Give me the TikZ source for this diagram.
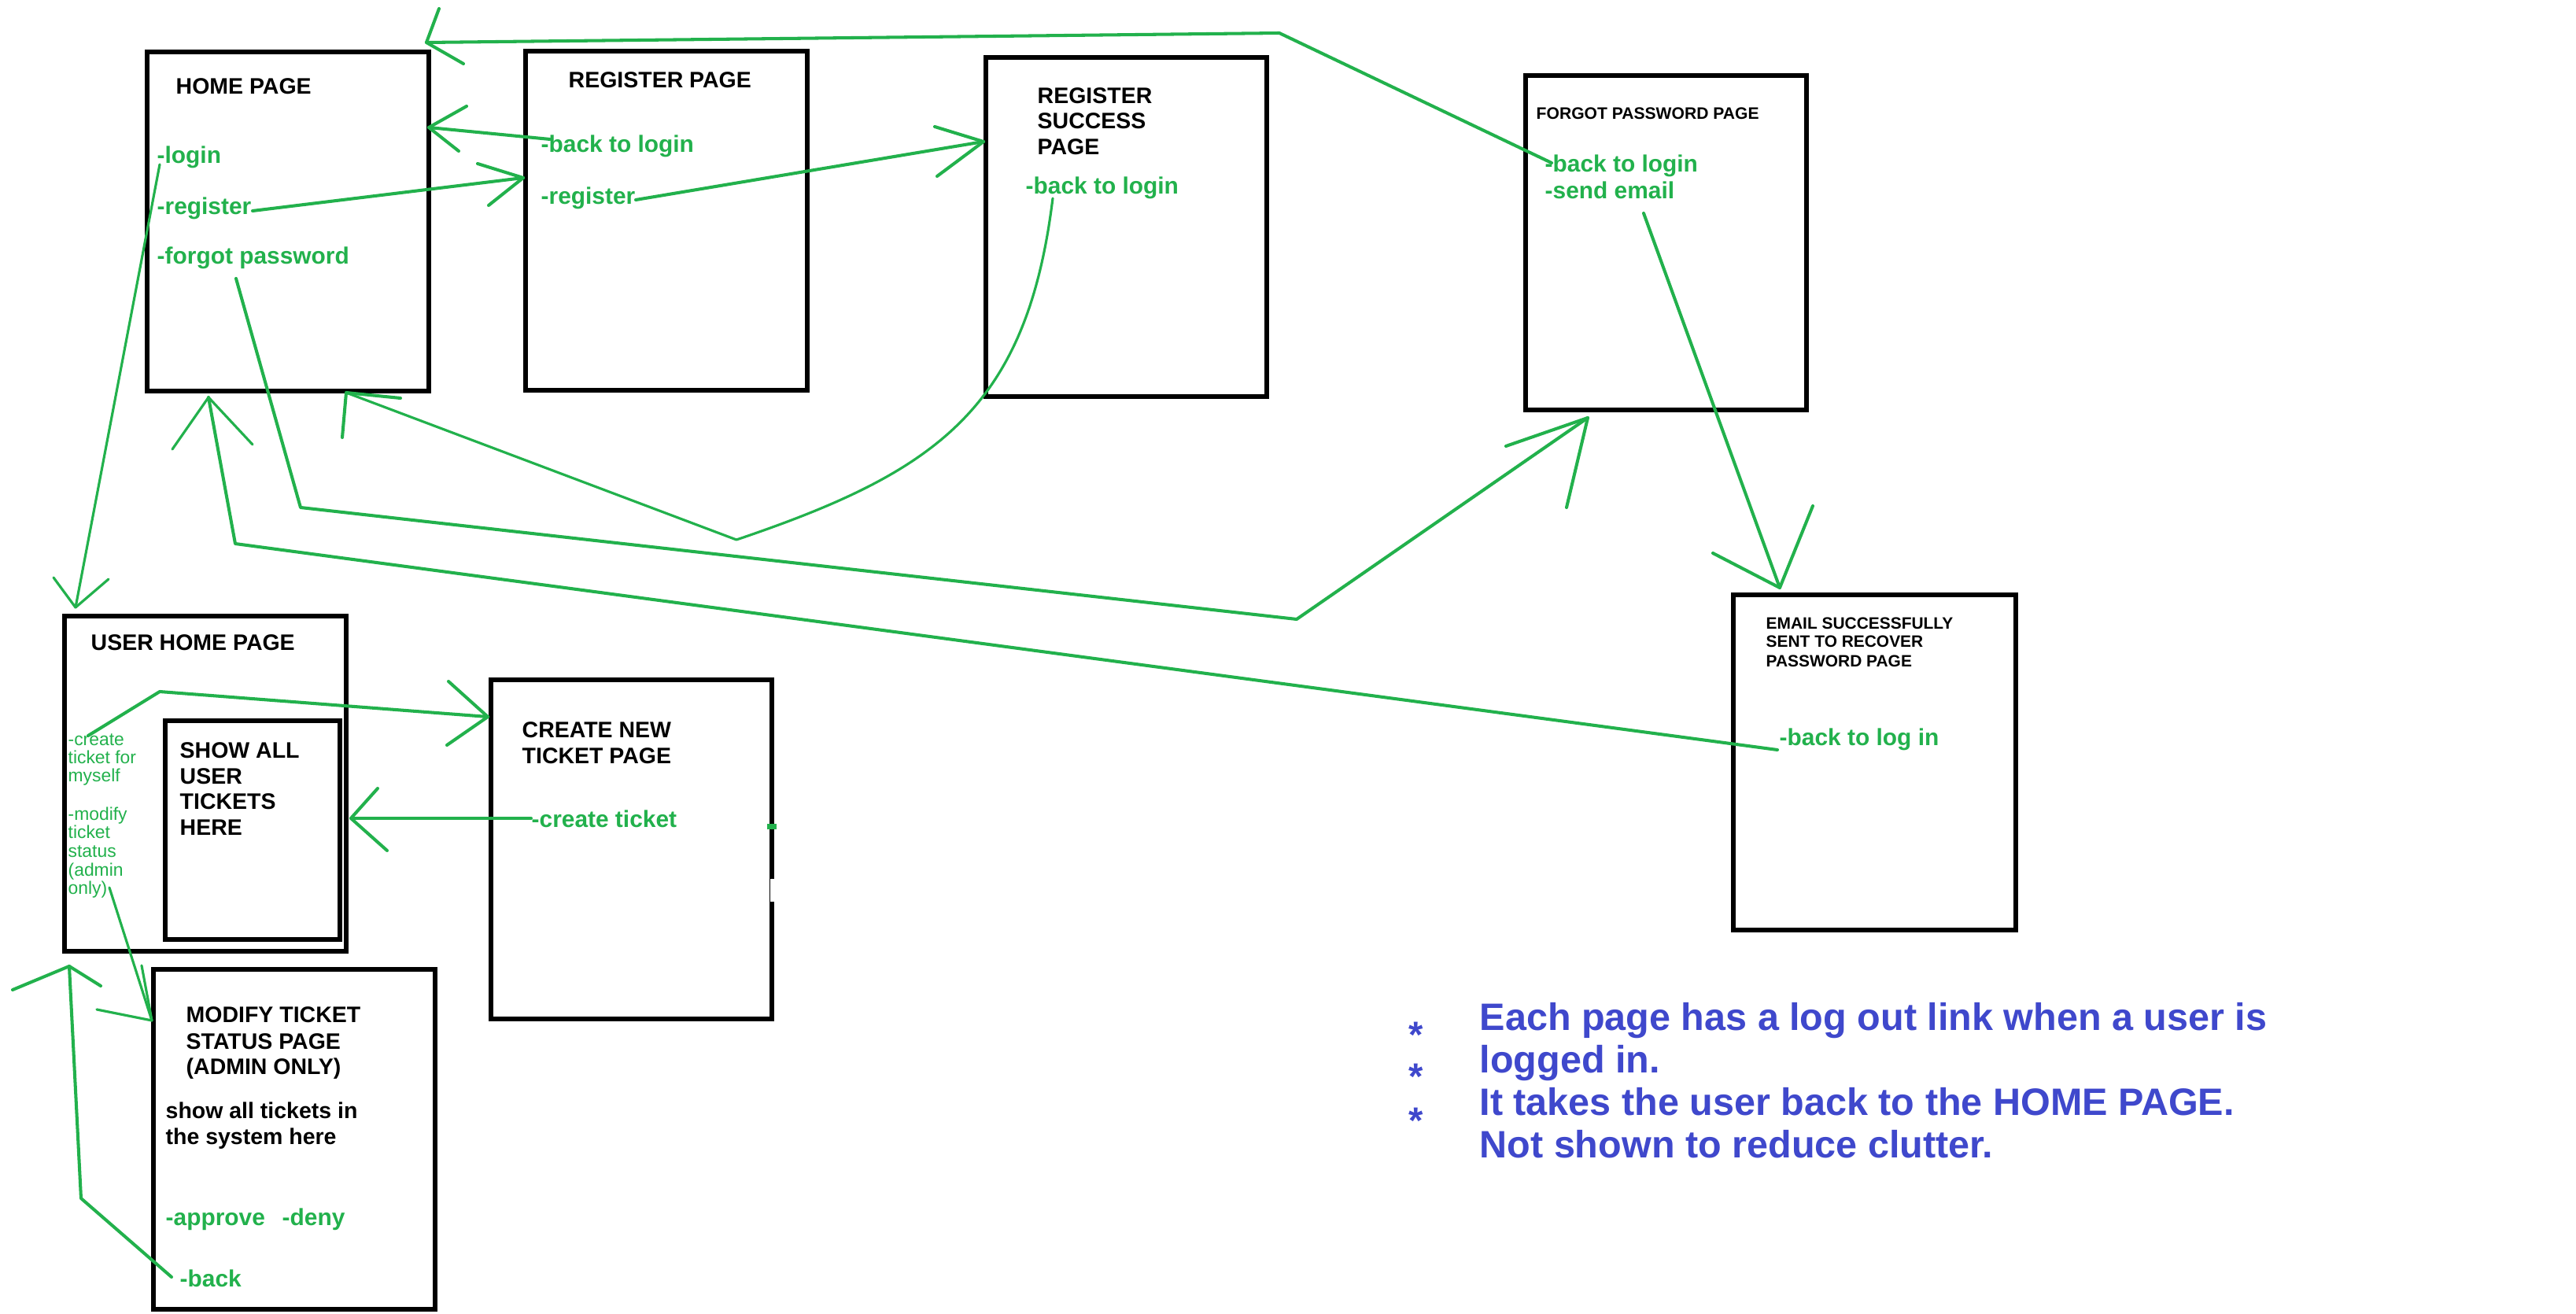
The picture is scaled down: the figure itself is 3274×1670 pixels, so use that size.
\documentclass[tikz,border=0pt]{standalone}
\usepackage{fontspec}
\setmainfont{Liberation Sans}
\definecolor{pgreen}{RGB}{34,177,76}
\definecolor{pblue}{RGB}{63,72,204}
\begin{document}
\begin{tikzpicture}[x=0.01cm, y=-0.01cm,
  page/.style={draw=black, line width=1.6pt, anchor=north west, inner sep=0pt, outer sep=0pt},
  ttl/.style={anchor=base west, inner sep=0pt, font=\fontsize{8.1}{9.7}\selectfont\bfseries},
  ftl/.style={anchor=base west, inner sep=0pt, font=\fontsize{6}{7}\selectfont\bfseries},
  etl/.style={anchor=base west, inner sep=0pt, font=\fontsize{5.95}{7}\selectfont\bfseries},
  gtxt/.style={anchor=base west, inner sep=0pt, text=pgreen, font=\fontsize{8.5}{10}\selectfont\bfseries},
  sgt/.style={anchor=base west, inner sep=0pt, text=pgreen, font=\fontsize{6.5}{7}\selectfont},
  note/.style={anchor=base west, inner sep=0pt, text=pblue, font=\fontsize{13.8}{15.4}\selectfont\bfseries},
  star/.style={anchor=base, inner sep=0pt, text=pblue, font=\fontsize{13.4}{15.4}\selectfont\bfseries},
  gl/.style={draw=pgreen, line width=1.15pt, line cap=round, line join=round},
  gthin/.style={draw=pgreen, line width=0.9pt, line cap=round, line join=round}
]
\useasboundingbox (0,0) rectangle (3274,1670);
\fill[white] (0,0) rectangle (3274,1670);

% ---------- pages ----------
\node[page, minimum width=3.58cm, minimum height=4.31cm] (home) at (187,66) {};
\node[page, minimum width=3.58cm, minimum height=4.31cm] (reg) at (668,65) {};
\node[page, minimum width=3.57cm, minimum height=4.31cm] (succ) at (1253,73) {};
\node[page, minimum width=3.57cm, minimum height=4.25cm] (forgot) at (1939,96) {};
\node[page, minimum width=3.59cm, minimum height=4.26cm] (email) at (2203,756) {};
\node[page, minimum width=3.58cm, minimum height=4.26cm] (uhome) at (82,783) {};
\node[page, minimum width=2.22cm, minimum height=2.78cm] (showall) at (210,916) {};
\node[page, minimum width=3.57cm, minimum height=4.31cm] (create) at (624,864) {};
\node[page, minimum width=3.58cm, minimum height=4.32cm] (modify) at (195,1232) {};

% small marks on the create page border
\fill[pgreen] (975,1047) rectangle (987,1054);
\fill[white] (979,1117) rectangle (987,1146);

% ---------- titles ----------
\node[ttl] (homeT) at (223,120) {HOME PAGE};
\node[ttl] (regT) at (722,112) {REGISTER PAGE};
\node[ttl] (succT1) at (1318,132) {REGISTER};
\node[ttl] (succT2) at (1318,164) {SUCCESS};
\node[ttl] (succT3) at (1318,197) {PAGE};
\node[ftl] (forgotT) at (1952,152) {FORGOT PASSWORD PAGE};
\node[etl] (emailT1) at (2244,800) {EMAIL SUCCESSFULLY};
\node[etl] (emailT2) at (2244,823) {SENT TO RECOVER};
\node[etl] (emailT3) at (2244,847) {PASSWORD PAGE};
\node[ttl] (uhomeT) at (115,827) {USER HOME PAGE};
\node[ttl] (showT1) at (228,963) {SHOW ALL};
\node[ttl] (showT2) at (228,996) {USER};
\node[ttl] (showT3) at (228,1028) {TICKETS};
\node[ttl] (showT4) at (228,1061) {HERE};
\node[ttl] (createT1) at (663,937) {CREATE NEW};
\node[ttl] (createT2) at (663,970) {TICKET PAGE};
\node[ttl] (modT1) at (236,1299) {MODIFY TICKET};
\node[ttl] (modT2) at (236,1333) {STATUS PAGE};
\node[ttl] (modT3) at (236,1365) {(ADMIN ONLY)};
\node[ttl] (modS1) at (210,1421) {show all tickets in};
\node[ttl] (modS2) at (210,1454) {the system here};

% ---------- green links ----------
\node[gtxt] (hLogin) at (199,208) {-login};
\node[gtxt] (hReg) at (199,273) {-register};
\node[gtxt] (hForgot) at (199,336) {-forgot password};
\node[gtxt] (rBack) at (687,194) {-back to login};
\node[gtxt] (rReg) at (687,260) {-register};
\node[gtxt] (sBack) at (1303,247) {-back to login};
\node[gtxt] (fBack) at (1963,219) {-back to login};
\node[gtxt] (fSend) at (1963,253) {-send email};
\node[gtxt] (eBack) at (2261,948) {-back to log in};
\node[gtxt] (cCreate) at (675,1051) {-create ticket};
\node[gtxt] (mApprove) at (210,1557) {-approve};
\node[gtxt] (mDeny) at (358,1557) {-deny};
\node[gtxt] (mBack) at (228,1635) {-back};

\node[sgt] (u1) at (86,947) {-create};
\node[sgt] (u2) at (86,970) {ticket for};
\node[sgt] (u3) at (86,993) {myself};
\node[sgt] (u4) at (86,1042) {-modify};
\node[sgt] (u5) at (86,1065) {ticket};
\node[sgt] (u6) at (86,1089) {status};
\node[sgt] (u7) at (86,1113) {(admin};
\node[sgt] (u8) at (86,1136) {only)};

% ---------- notes ----------
\node[star] (s1) at (1800,1331) {*};
\node[star] (s2) at (1800,1384) {*};
\node[star] (s3) at (1800,1440) {*};
\node[note] (n1) at (1880,1309) {Each page has a log out link when a user is};
\node[note] (n2) at (1880,1363) {logged in.};
\node[note] (n3) at (1880,1417) {It takes the user back to the HOME PAGE.};
\node[note] (n4) at (1880,1471) {Not shown to reduce clutter.};

% ---------- connector points ----------
\coordinate (c1a) at (1972,207);  \coordinate (c1b) at (1626,42);  \coordinate (c1t) at (542,54);
\coordinate (c2a) at (699,177);   \coordinate (c2t) at (545,162);
\coordinate (c3a) at (321,268);   \coordinate (c3t) at (665,226);
\coordinate (c4a) at (808,254);   \coordinate (c4t) at (1250,180);
\coordinate (c5a) at (300,354);   \coordinate (c5b) at (382,645);  \coordinate (c5c) at (1648,787); \coordinate (c5t) at (2018,531);
\coordinate (c6a) at (1338,252);  \coordinate (c6b) at (936,686);  \coordinate (c6t) at (440,499);
\coordinate (c7a) at (2259,953);  \coordinate (c7b) at (299,691);  \coordinate (c7t) at (265,505);
\coordinate (c8a) at (2089,271);  \coordinate (c8t) at (2262,747);
\coordinate (c9a) at (203,209);   \coordinate (c9t) at (96,772);
\coordinate (c10a) at (112,935);  \coordinate (c10b) at (203,879); \coordinate (c10t) at (620,911);
\coordinate (c11a) at (675,1040); \coordinate (c11t) at (446,1040);
\coordinate (c12a) at (139,1128); \coordinate (c12t) at (193,1297);
\coordinate (c13a) at (218,1623); \coordinate (c13b) at (103,1523); \coordinate (c13t) at (88,1228);

% forgot page -back to login -> home page
\draw[gl] (c1a) -- (c1b) -- (c1t);
\draw[gl] (c1t) -- ++(16,-43) (c1t) -- ++(47,27);
% register -back to login -> home page
\draw[gl] (c2a) -- (c2t);
\draw[gl] (c2t) -- ++(48,-27) (c2t) -- ++(38,30);
% home -register -> register page
\draw[gl] (c3a) -- (c3t);
\draw[gl] (c3t) -- ++(-58,-18) (c3t) -- ++(-44,35);
% register -register -> register success
\draw[gl] (c4a) -- (c4t);
\draw[gl] (c4t) -- ++(-62,-19) (c4t) -- ++(-59,44);
% home -forgot password -> forgot password page
\draw[gl] (c5a) -- (c5b) -- (c5c) -- (c5t);
\draw[gl] (c5t) -- ++(-104,36) (c5t) -- ++(-27,114);
% register success -back to login -> home
\draw[gthin] (c6a) .. controls (1305,520) and (1190,600) .. (c6b) -- (c6t);
\draw[gl] (c6t) -- ++(69,7) (c6t) -- ++(-5,57);
% email page -back to log in -> home
\draw[gl] (c7a) -- (c7b) -- (c7t);
\draw[gthin] (c7t) -- ++(-46,66) (c7t) -- ++(56,60);
% forgot -send email -> email page
\draw[gl] (c8a) -- (c8t);
\draw[gl] (c8t) -- ++(-85,-44) (c8t) -- ++(42,-104);
% home -login -> user home
\draw[gthin] (c9a) -- (c9t);
\draw[gthin] (c9t) -- ++(-28,-38) (c9t) -- ++(42,-36);
% user home -create -> create page
\draw[gl] (c10a) -- (c10b) -- (c10t);
\draw[gl] (c10t) -- ++(-50,-45) (c10t) -- ++(-52,36);
% create ticket -> show all
\draw[gl] (c11a) -- (c11t);
\draw[gl] (c11t) -- ++(34,-38) (c11t) -- ++(46,41);
% user home -modify -> modify page
\draw[gthin] (c12a) -- (c12t);
\draw[gthin] (c12t) -- ++(-13,-70) (c12t) -- ++(-70,-14);
% modify -back -> user home
\draw[gl] (c13a) -- (c13b) -- (c13t);
\draw[gl] (c13t) -- ++(-72,30) (c13t) -- ++(40,25);
\end{tikzpicture}
\end{document}
